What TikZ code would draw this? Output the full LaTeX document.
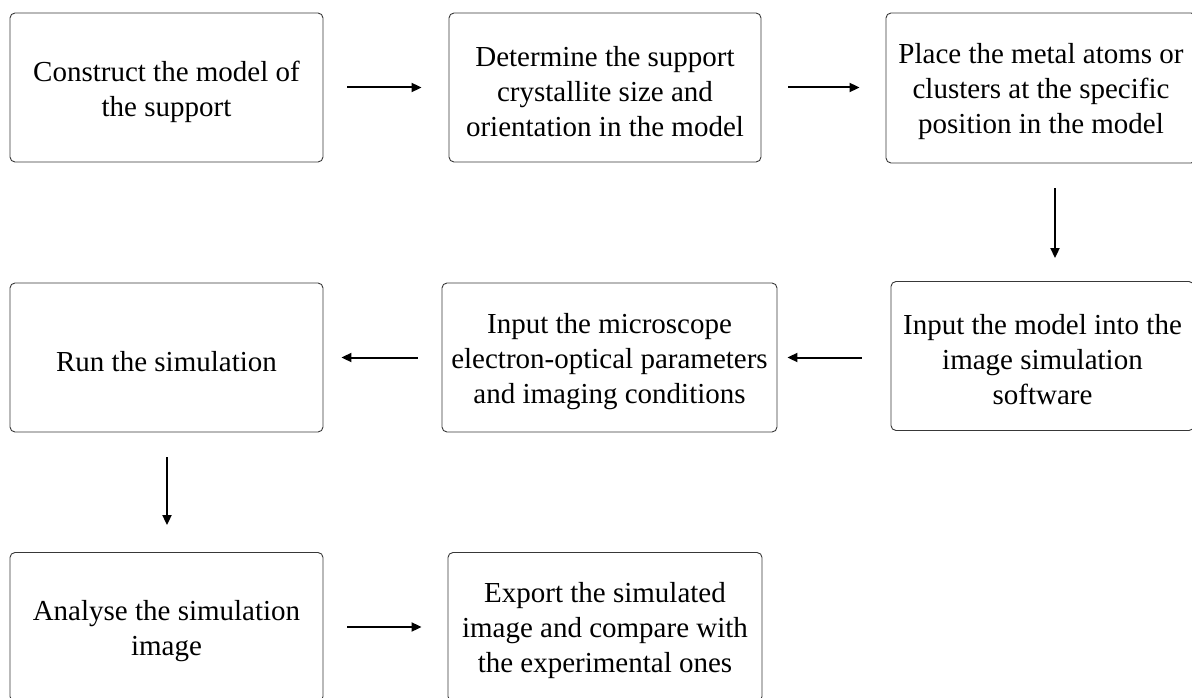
\documentclass[tikz,border=0pt]{standalone}
\usepackage{fontspec}
\setmainfont{Liberation Serif}
\usetikzlibrary{arrows.meta,calc}
\begin{document}
\begin{tikzpicture}[x=1pt,y=-1pt,
  box/.style={draw=black!78, line width=0.9pt, rounded corners=5pt, inner sep=0pt, minimum height=149pt},
  lbl/.style={align=center, font=\fontsize{29}{35}\selectfont, inner sep=0pt, yshift=-4pt},
  flow/.style={line width=2pt, -{Triangle[length=10pt,width=9pt]}}]
\useasboundingbox (0,0) rectangle (1192,698);
\clip (0,0) rectangle (1192,698);
\node[box, minimum width=313pt] (b1) at (166.5,87.5) {};
\node[box, minimum width=312pt] (b2) at (605,87.5) {};
\node[box, minimum width=310pt, minimum height=150pt] (b3) at (1041,88) {};
\node[box, minimum width=303pt] (b6) at (1042.5,356) {};
\node[box, minimum width=335pt] (b5) at (609.5,357.5) {};
\node[box, minimum width=313pt] (b4) at (166.5,357.5) {};
\node[box, minimum width=313pt] (b7) at (166.5,627) {};
\node[box, minimum width=314pt] (b8) at (605,627) {};
\node[lbl] (t1) at (b1.center) {Construct the model of\\the support};
\node[lbl] (t2) at (b2.center) {Determine the support\\crystallite size and\\orientation in the model};
\node[lbl] (t3) at (b3.center) {Place the metal atoms or\\clusters at the specific\\position in the model};
\node[lbl] (t6) at (b6.center) {Input the model into the\\image simulation\\software};
\node[lbl] (t5) at (b5.center) {Input the microscope\\electron-optical parameters\\and imaging conditions};
\node[lbl] (t4) at (b4.center) {Run the simulation};
\node[lbl] (t7) at (b7.center) {Analyse the simulation\\image};
\node[lbl] (t8) at (b8.center) {Export the simulated\\image and compare with\\the experimental ones};
\draw[flow] ($(b1.east)+(24,0)$) -- ($(b2.west)+(-27,0)$);
\draw[flow] ($(b2.east)+(27,0)$) -- ($(b3.west)+(-26,-0.5)$);
\coordinate (a3s) at ($(b3.south)+(14,25)$);
\draw[flow] (a3s) -- ($(a3s |- b6.north)+(0,-23)$);
\coordinate (a4s) at ($(b6.west)+(-29,1.5)$);
\draw[flow] (a4s) -- (a4s -| {$(b5.east)+(10,0)$});
\draw[flow] ($(b5.west)+(-24,0)$) -- ($(b4.east)+(18,0)$);
\coordinate (a6s) at ($(b4.south)+(0.5,25)$);
\draw[flow] (a6s) -- ($(a6s |- b7.north)+(0,-27)$);
\draw[flow] ($(b7.east)+(24,0)$) -- ($(b8.west)+(-26,0)$);
\end{tikzpicture}
\end{document}
